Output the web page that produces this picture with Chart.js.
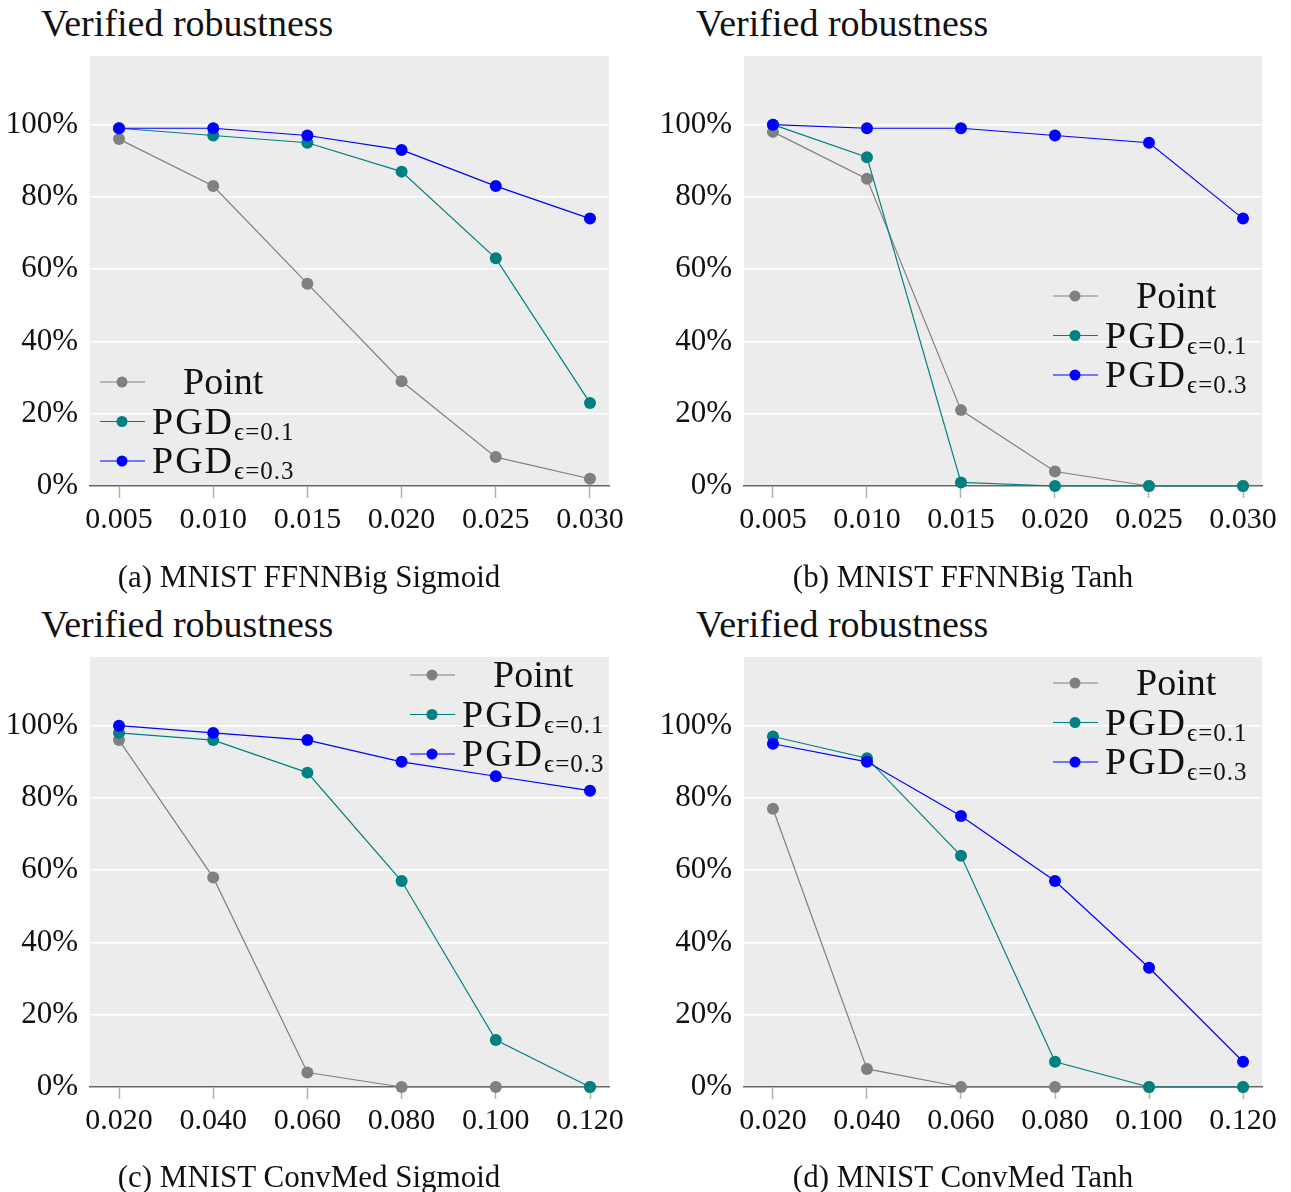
<!DOCTYPE html>
<html>
<head>
<meta charset="utf-8">
<script src="https://cdn.jsdelivr.net/npm/chart.js@4.4.1/dist/chart.umd.min.js"></script>
<style>
  body { margin: 0; background: #fff; width: 1291px; height: 1192px; position: relative; overflow: hidden; font-family: 'Liberation Serif', serif; color: #111; }
  .box { position: absolute; }
  .title { position: absolute; font-size: 38px; white-space: nowrap; line-height: 1; }
  .caption { position: absolute; font-size: 31px; white-space: nowrap; line-height: 1; transform: translateX(-50%); }
</style>
</head>
<body>
<div class="title" style="left:41px; top:4px;">Verified robustness</div>
<div class="title" style="left:696px; top:4px;">Verified robustness</div>
<div class="title" style="left:41px; top:605px;">Verified robustness</div>
<div class="title" style="left:696px; top:605px;">Verified robustness</div>

<div class="box" style="left:0px; top:0px; width:652px; height:560px;"><canvas id="chartA"></canvas></div>
<div class="box" style="left:654px; top:0px; width:637px; height:560px;"><canvas id="chartB"></canvas></div>
<div class="box" style="left:0px; top:601px; width:652px; height:560px;"><canvas id="chartC"></canvas></div>
<div class="box" style="left:654px; top:601px; width:637px; height:560px;"><canvas id="chartD"></canvas></div>

<div class="caption" style="left:309px; top:561px;">(a) MNIST FFNNBig Sigmoid</div>
<div class="caption" style="left:963px; top:561px;">(b) MNIST FFNNBig Tanh</div>
<div class="caption" style="left:309px; top:1161px;">(c) MNIST ConvMed Sigmoid</div>
<div class="caption" style="left:963px; top:1161px;">(d) MNIST ConvMed Tanh</div>

<script>
// epsilon values on the x axis
const epsFFNN = [0.005, 0.010, 0.015, 0.020, 0.025, 0.030];
const epsConv = [0.020, 0.040, 0.060, 0.080, 0.100, 0.120];
const yTicks = [0, 20, 40, 60, 80, 100];

// (a) MNIST FFNNBig Sigmoid
const pointA = [96, 83, 56, 29, 8, 2];
const pgd01A = [99, 97, 95, 87, 63, 23];
const pgd03A = [99, 99, 97, 93, 83, 74];

// (b) MNIST FFNNBig Tanh
const pointB = [98, 85, 21, 4, 0, 0];
const pgd01B = [100, 91, 1, 0, 0, 0];
const pgd03B = [100, 99, 99, 97, 95, 74];

// (c) MNIST ConvMed Sigmoid
const pointC = [96, 58, 4, 0, 0, 0];
const pgd01C = [98, 96, 87, 57, 13, 0];
const pgd03C = [100, 98, 96, 90, 86, 82];

// (d) MNIST ConvMed Tanh
const pointD = [77, 5, 0, 0, 0, 0];
const pgd01D = [97, 91, 64, 7, 0, 0];
const pgd03D = [95, 90, 75, 57, 33, 7];

const seriesNames = ['Point', 'PGD', 'PGD'];
const seriesSubs = ['', 'ϵ=0.1', 'ϵ=0.3'];
const seriesColors = ['#808080', '#008080', '#0000ff'];

const FONT = "'Liberation Serif', serif";

const bgPlugin = {
    id: 'plotBg',
    beforeDraw(chart) {
        const a = chart.chartArea;
        const c = chart.ctx;
        c.save();
        c.fillStyle = '#ececec';
        c.fillRect(a.left, a.top, a.right - a.left, a.bottom - a.top);
        c.restore();
    }
};

// legend drawn by hand so the PGD labels can carry a subscript
const legendPlugin = {
    id: 'texLegend',
    afterDatasetsDraw(chart, args, opts) {
        const a = chart.chartArea;
        const c = chart.ctx;
        const sets = chart.data.datasets;
        c.save();
        const mainFont = '38px ' + FONT;
        const subFont = '25px ' + FONT;
        const widths = sets.map(ds => {
            c.font = mainFont;
            c.letterSpacing = ds.sub ? '2px' : '0px';
            let w = c.measureText(ds.label).width;
            if (ds.sub) {
                c.font = subFont;
                c.letterSpacing = '1px';
                w += c.measureText(ds.sub).width;
            }
            return w;
        });
        const maxW = Math.max(...widths);
        const x0 = a.left + opts.x;
        sets.forEach((ds, i) => {
            const y = a.top + opts.y + i * 39.5;
            c.strokeStyle = ds.borderColor;
            c.lineWidth = 1.2;
            c.beginPath();
            c.moveTo(x0, y);
            c.lineTo(x0 + 45, y);
            c.stroke();
            c.fillStyle = ds.borderColor;
            c.beginPath();
            c.arc(x0 + 22, y, 5.5, 0, Math.PI * 2);
            c.fill();

            const colCenter = x0 + 52 + maxW / 2;
            let tx = colCenter - widths[i] / 2;
            c.fillStyle = '#111';
            c.textBaseline = 'alphabetic';
            c.textAlign = 'left';
            c.font = mainFont;
            c.letterSpacing = ds.sub ? '2px' : '0px';
            c.fillText(ds.label, tx, y + 12);
            if (ds.sub) {
                tx += c.measureText(ds.label).width;
                c.font = subFont;
                c.letterSpacing = '1px';
                c.fillText(ds.sub, tx, y + 18);
            }
        });
        c.restore();
    }
};

function makeChart(id, xs, series, xMin, xMax, legendPos, rightPad) {
    const datasets = series.map((vals, i) => ({
        label: seriesNames[i],
        sub: seriesSubs[i],
        data: xs.map((x, j) => ({ x: x, y: vals[j] })),
        borderColor: seriesColors[i],
        backgroundColor: seriesColors[i],
        pointBackgroundColor: seriesColors[i],
        borderWidth: 1.2,
        pointRadius: 6,
        pointBorderWidth: 0,
        pointHoverRadius: 6,
        tension: 0,
        clip: false,
        order: 3 - i
    }));
    return new Chart(document.getElementById(id).getContext('2d'), {
        type: 'line',
        data: { datasets: datasets },
        plugins: [bgPlugin, legendPlugin],
        options: {
            responsive: true,
            maintainAspectRatio: false,
            animation: false,
            events: [],
            layout: { padding: { top: 56, right: rightPad, left: 0, bottom: 0 } },
            plugins: {
                legend: { display: false },
                tooltip: { enabled: false },
                texLegend: legendPos
            },
            scales: {
                x: {
                    type: 'linear',
                    min: xMin,
                    max: xMax,
                    afterBuildTicks: s => { s.ticks = xs.map(v => ({ value: v })); },
                    afterFit: s => { s.height = 74; },
                    grid: {
                        drawOnChartArea: false,
                        drawTicks: true,
                        tickLength: 12,
                        tickWidth: 1.5,
                        tickColor: '#b0b0b0'
                    },
                    border: { display: true, color: '#666', width: 1.5 },
                    ticks: {
                        maxRotation: 0,
                        autoSkip: false,
                        padding: 4,
                        color: '#111',
                        font: { family: FONT, size: 30 },
                        callback: v => v.toFixed(3)
                    }
                },
                y: {
                    min: 0,
                    max: 119,
                    afterBuildTicks: s => { s.ticks = yTicks.map(v => ({ value: v })); },
                    afterFit: s => { s.width = 90; },
                    grid: { color: '#ffffff', lineWidth: 1.5, drawTicks: false },
                    border: { display: false },
                    ticks: {
                        padding: 12,
                        color: '#111',
                        font: { family: FONT, size: 31 },
                        callback: v => v + '%'
                    }
                }
            }
        }
    });
}

makeChart('chartA', epsFFNN, [pointA, pgd01A, pgd03A], 0.00346, 0.03101, { x: 10, y: 326 }, 43);
makeChart('chartB', epsFFNN, [pointB, pgd01B, pgd03B], 0.00346, 0.03101, { x: 309, y: 240 }, 29);
makeChart('chartC', epsConv, [pointC, pgd01C, pgd03C], 0.01384, 0.12403, { x: 320, y: 18 }, 43);
makeChart('chartD', epsConv, [pointD, pgd01D, pgd03D], 0.01384, 0.12403, { x: 309, y: 26 }, 29);
</script>
</body>
</html>
